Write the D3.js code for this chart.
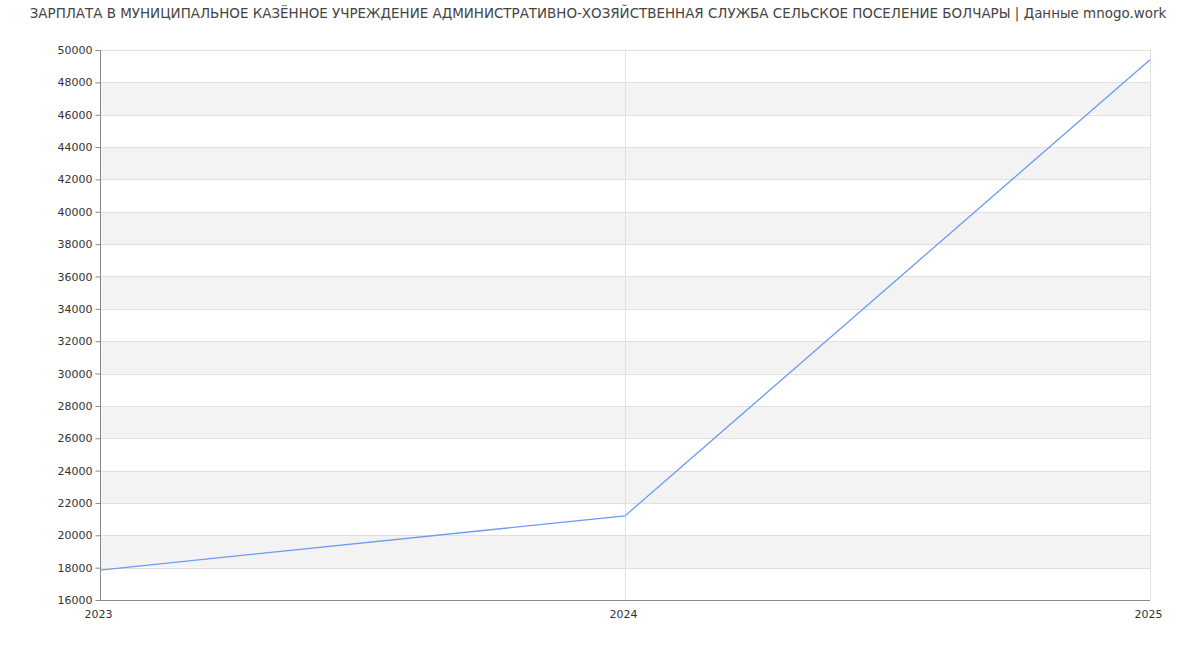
<!DOCTYPE html>
<html><head><meta charset="utf-8">
<script src="https://cdn.jsdelivr.net/npm/d3@7"></script>
<style>body{margin:0;background:#fff}svg{display:block}text{font-family:"DejaVu Sans",sans-serif}</style>
</head><body><svg id="c" width="1200" height="650"></svg>
<script>
const title = "ЗАРПЛАТА В МУНИЦИПАЛЬНОЕ КАЗЁННОЕ УЧРЕЖДЕНИЕ АДМИНИСТРАТИВНО-ХОЗЯЙСТВЕННАЯ СЛУЖБА СЕЛЬСКОЕ ПОСЕЛЕНИЕ БОЛЧАРЫ | Данные mnogo.work";
const years = [2023, 2024, 2025];
const salaries = [17850, 21200, 49400];
const yTicks = [16000,18000,20000,22000,24000,26000,28000,30000,32000,34000,36000,38000,40000,42000,44000,46000,48000,50000];

const svg = d3.select("#c");
const L = 100, R = 1150, T = 50, B = 600;
const x = d3.scaleLinear().domain([2023, 2025]).range([L, R]);
const y = d3.scaleLinear().domain([16000, 50000]).range([B, T]);

svg.append("text").attr("x", 598).attr("y", 18).attr("text-anchor", "middle")
  .attr("font-size", 13.45).attr("fill", "#444").text(title);

// bands
for (let i = 0; i < yTicks.length - 1; i++) {
  if (i % 2 === 1) {
    svg.append("rect").attr("x", L).attr("width", R - L)
      .attr("y", y(yTicks[i+1])).attr("height", y(yTicks[i]) - y(yTicks[i+1]))
      .attr("fill", "#f3f3f3");
  }
}
// horizontal grid
svg.append("g").selectAll("line").data(yTicks.slice(1)).join("line")
  .attr("x1", L).attr("x2", R).attr("y1", d => Math.round(y(d)) + 0.5).attr("y2", d => Math.round(y(d)) + 0.5)
  .attr("stroke", "#e0e0e0");
// vertical grid
svg.append("g").selectAll("line").data(years.slice(1)).join("line")
  .attr("y1", T).attr("y2", B).attr("x1", d => Math.round(x(d)) + 0.5).attr("x2", d => Math.round(x(d)) + 0.5)
  .attr("stroke", "#e0e0e0");

// y axis
const ya = svg.append("g").attr("transform", `translate(${L + 0.5},0)`)
  .call(d3.axisLeft(y).tickValues(yTicks).tickSize(5).tickPadding(3).tickFormat(d3.format("d")));
ya.selectAll("text").attr("font-size", 11).attr("fill", "#333").style("font-family", "DejaVu Sans");
ya.selectAll("line").attr("stroke", "#888");
ya.select(".domain").attr("stroke", "#888").attr("d", `M0,${T}V${B}`);

// x axis
const xa = svg.append("g").attr("transform", `translate(0,${B + 0.5})`)
  .call(d3.axisBottom(x).tickValues(years).tickSize(0).tickPadding(10).tickFormat(d3.format("d")));
xa.selectAll("text").attr("font-size", 11).attr("fill", "#333").attr("dx", -2).style("font-family", "DejaVu Sans");
xa.select(".domain").attr("stroke", "#888").attr("d", `M${L},0H${R}`);

// line
svg.append("path").datum(years.map((d, i) => [d, salaries[i]]))
  .attr("fill", "none").attr("stroke", "#6d9bf1").attr("stroke-width", 1.3)
  .attr("d", d3.line().x(d => x(d[0])).y(d => y(d[1])));
</script></body></html>
